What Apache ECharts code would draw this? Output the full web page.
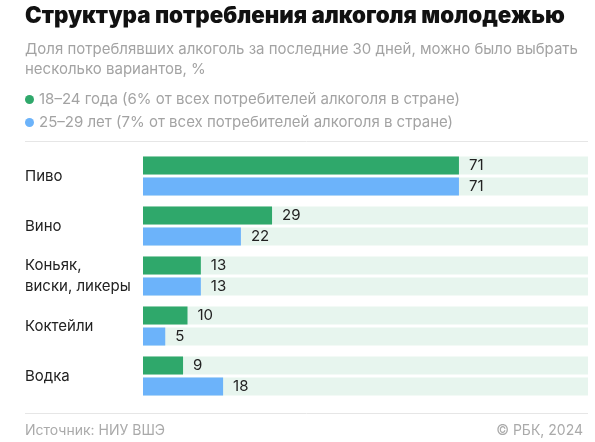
<!DOCTYPE html>
<html><head><meta charset="utf-8">
<script src="https://cdn.jsdelivr.net/npm/echarts@6/dist/echarts.min.js"></script>
<style>html,body{margin:0;padding:0;background:#fff}#c{width:595px;height:442px}</style>
</head><body><div id="c"></div>
<script>
const categories = ['Пиво', 'Вино', 'Коньяк,\nвиски, ликеры', 'Коктейли', 'Водка'];
const young = [71, 29, 13, 10, 9];
const older = [71, 22, 13, 5, 18];
const seriesNames = ['18–24 года (6% от всех потребителей алкоголя в стране)', '25–29 лет (7% от всех потребителей алкоголя в стране)'];
const FONT = 'Inter, Roboto, sans-serif';
const chart = echarts.init(document.getElementById('c'));
const barCommon = {
  type: 'bar', barWidth: 18, barGap: '17%',
  showBackground: true, backgroundStyle: { color: '#e7f5ee' },
  label: { show: true, position: 'right', distance: 10, color: '#222', fontSize: 15, fontFamily: FONT },
  animation: false
};
chart.setOption({
  animation: false,
  title: [
    { text: 'Структура потребления алкоголя молодежью', left: 25, top: 5, padding: 0,
      textStyle: { fontSize: 22.3, fontWeight: 900, color: '#111', fontFamily: FONT } },
    { text: 'Доля потреблявших алкоголь за последние 30 дней, можно было выбрать\nнесколько вариантов, %', left: 25, top: 39, padding: 0,
      textStyle: { fontSize: 15, fontWeight: 'normal', color: '#a3a3a3', fontFamily: FONT, lineHeight: 20 } },
    { text: 'Источник: НИУ ВШЭ', left: 25, top: 424, padding: 0,
      textStyle: { fontSize: 14, fontWeight: 'normal', color: '#aaa', fontFamily: FONT } },
    { text: '© РБК, 2024', right: 12, top: 424, padding: 0,
      textStyle: { fontSize: 14, fontWeight: 'normal', color: '#aaa', fontFamily: FONT } }
  ],
  legend: {
    orient: 'vertical', left: 20, top: 87, itemGap: 8,
    icon: 'circle', itemWidth: 9, itemHeight: 9,
    textStyle: { fontSize: 15, color: '#a3a3a3', fontFamily: FONT },
    data: seriesNames
  },
  graphic: [
    { type: 'line', shape: { x1: 25, y1: 141.5, x2: 588, y2: 141.5 }, style: { stroke: '#e6e6e6', lineWidth: 1 } },
    { type: 'line', shape: { x1: 25, y1: 413.5, x2: 588, y2: 413.5 }, style: { stroke: '#e6e6e6', lineWidth: 1 } }
  ],
  grid: { left: 143, right: 7, top: 151, bottom: 41, containLabel: false },
  xAxis: { type: 'value', min: 0, max: 100, show: false },
  yAxis: {
    type: 'category', inverse: true, data: categories,
    axisLine: { show: false }, axisTick: { show: false },
    axisLabel: { align: 'left', margin: 118, color: '#222', fontSize: 15, fontFamily: FONT, lineHeight: 21, padding: [4, 0, 0, 0] }
  },
  series: [
    Object.assign({}, barCommon, { name: seriesNames[0], data: young, itemStyle: { color: '#2fa86b' } }),
    Object.assign({}, barCommon, { name: seriesNames[1], data: older, itemStyle: { color: '#6cb3fa' } })
  ]
});
</script></body></html>
